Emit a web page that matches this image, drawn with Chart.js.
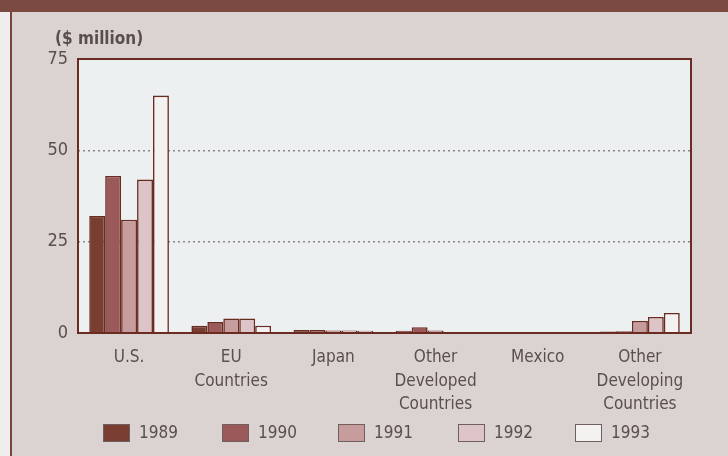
<!DOCTYPE html>
<html>
<head>
<meta charset="utf-8">
<script src="https://cdn.jsdelivr.net/npm/chart.js@4"></script>
<style>
  html, body { margin: 0; padding: 0; background: #dad3d1; }
  #wrap { width: 728px; height: 456px; }
</style>
</head>
<body>
<div id="wrap"><canvas id="chart" width="728" height="456"></canvas></div>
<script>
const categories = ['U.S.', ['EU', 'Countries'], 'Japan', ['Other', 'Developed', 'Countries'], 'Mexico', ['Other', 'Developing', 'Countries']];
const years = ['1989', '1990', '1991', '1992', '1993'];
const v1989 = [32, 2, 0.8, 0.6, 0, 0.4];
const v1990 = [43, 3, 0.8, 1.6, 0, 0.5];
const v1991 = [31, 4, 0.7, 0.7, 0, 3.3];
const v1992 = [42, 4, 0.7, 0, 0, 4.4];
const v1993 = [65, 2, 0.6, 0, 0, 5.5];
const yTicks = [0, 25, 50, 75];

const colors = ['#7a3d32', '#9b5a59', '#c79c9d', '#dcc4c7', '#f3f2f1'];
const font = "'Liberation Sans Narrow', 'DejaVu Sans Condensed', 'Roboto', sans-serif";
const textColor = '#5a4f4f';
const edge = '#6a2c22';

const series = [v1989, v1990, v1991, v1992, v1993];
const datasets = years.map((y, i) => ({
  label: y,
  data: series[i],
  backgroundColor: colors[i],
  borderColor: edge,
  borderWidth: 1.6,
  borderSkipped: 'bottom',
  barPercentage: 1,
  categoryPercentage: 0.78,
}));

// page frame, plot panel, y title and legend
const decor = {
  id: 'decor',
  beforeDraw(chart) {
    const ctx = chart.ctx;
    const a = chart.chartArea;
    ctx.save();
    ctx.fillStyle = '#dad3d1';
    ctx.fillRect(0, 0, chart.width, chart.height);
    ctx.fillStyle = '#eeeeec';
    ctx.fillRect(0, 0, 10, chart.height);
    ctx.fillStyle = '#7a4538';
    ctx.fillRect(10, 0, 2, chart.height);
    ctx.fillStyle = '#7b4a40';
    ctx.fillRect(0, 0, chart.width, 12);
    ctx.fillStyle = '#edf0f0';
    ctx.fillRect(a.left, a.top, a.right - a.left, a.bottom - a.top);
    ctx.fillStyle = textColor;
    ctx.font = 'bold 17px ' + font;
    ctx.textBaseline = 'middle';
    ctx.fillText('($ million)', 55, 40);
    ctx.restore();
  },
  afterDraw(chart) {
    const ctx = chart.ctx;
    const a = chart.chartArea;
    ctx.save();
    ctx.strokeStyle = edge;
    ctx.lineWidth = 2;
    ctx.strokeRect(a.left, a.top, a.right - a.left, a.bottom - a.top);
    const xs = [103, 222, 338, 458, 575];
    chart.data.datasets.forEach((ds, i) => {
      ctx.fillStyle = ds.backgroundColor;
      ctx.fillRect(xs[i], 424, 27, 18);
      ctx.strokeStyle = '#6f5f5e';
      ctx.lineWidth = 1;
      ctx.strokeRect(xs[i] + 0.5, 424.5, 26, 17);
      ctx.fillStyle = textColor;
      ctx.font = '17px ' + font;
      ctx.textBaseline = 'middle';
      ctx.fillText(ds.label, xs[i] + 36, 434);
    });
    ctx.restore();
  }
};

new Chart(document.getElementById('chart'), {
  type: 'bar',
  data: { labels: categories, datasets: datasets },
  plugins: [decor],
  options: {
    responsive: false,
    animation: false,
    layout: { padding: { left: 0, right: 37, top: 59, bottom: 0 } },
    plugins: { legend: { display: false }, tooltip: { enabled: false } },
    scales: {
      x: {
        grid: { display: false },
        border: { display: false },
        ticks: {
          color: textColor,
          font: { family: font, size: 17, lineHeight: 1.38 },
          padding: 5,
          maxRotation: 0,
          autoSkip: false,
        },
        afterFit(scale) { scale.height = 123; },
      },
      y: {
        min: 0,
        max: 75,
        afterBuildTicks(scale) { scale.ticks = yTicks.map(v => ({ value: v })); },
        grid: {
          color: c => (c.tick.value === 25 || c.tick.value === 50) ? '#8a8a8a' : 'rgba(0,0,0,0)',
          lineWidth: 1.5,
          drawTicks: false,
        },
        border: { display: false, dash: [2, 3] },
        ticks: {
          color: textColor,
          font: { family: font, size: 18 },
          padding: 10,
        },
        afterFit(scale) { scale.width = 78; },
      },
    },
  },
});
</script>
</body>
</html>
